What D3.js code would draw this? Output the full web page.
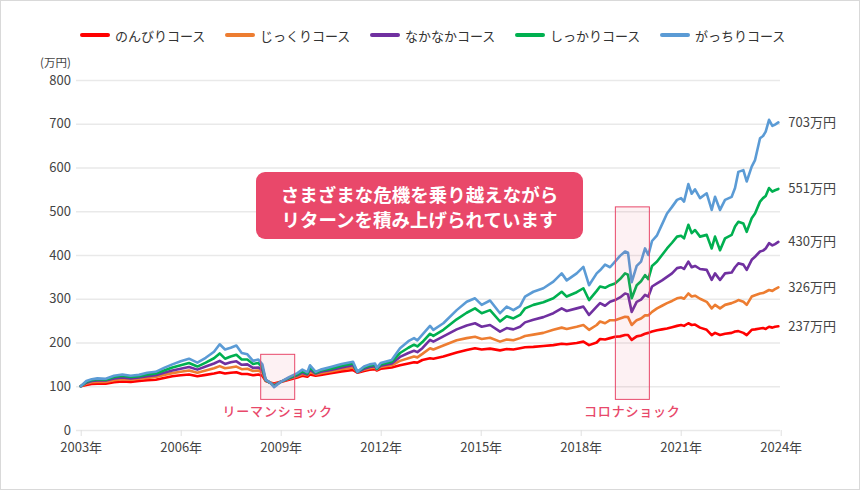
<!DOCTYPE html>
<html><head><meta charset="utf-8">
<script src="https://cdn.jsdelivr.net/npm/d3@7"></script>
<style>
html,body{margin:0;padding:0;background:#fff;}
svg{display:block;font-family:"Noto Sans CJK JP","Noto Sans",sans-serif;}
</style></head><body>
<svg id="chart" width="860" height="490"></svg>
<script>
// ---- data ----
const seriesNames = ["のんびりコース","じっくりコース","なかなかコース","しっかりコース","がっちりコース"];
const seriesColors = ["#ff0000","#ed7d31","#7030a0","#00b050","#5b9bd5"];
const endLabels = ["237万円","326万円","430万円","551万円","703万円"];
const yTicks = [0,100,200,300,400,500,600,700,800];
const xTicks = [2003,2006,2009,2012,2015,2018,2021,2024];
const dates = [2003.00,2003.17,2003.33,2003.50,2003.75,2004.00,2004.25,2004.50,2004.75,2005.00,
2005.25,2005.50,2005.75,2006.00,2006.25,2006.50,2006.75,2007.00,2007.17,2007.33,
2007.50,2007.67,2007.83,2008.00,2008.17,2008.33,2008.45,2008.55,2008.70,2008.80,
2009.00,2009.25,2009.50,2009.65,2009.80,2009.88,2010.05,2010.20,2010.50,2010.83,
2011.17,2011.30,2011.50,2011.67,2011.83,2011.88,2012.00,2012.33,2012.58,2012.83,
2013.00,2013.10,2013.25,2013.48,2013.58,2013.88,2014.28,2014.58,2014.83,2015.03,
2015.28,2015.58,2015.78,2015.98,2016.18,2016.33,2016.58,2016.88,2017.18,2017.43,
2017.58,2017.88,2018.08,2018.25,
2018.48,2018.58,2018.73,2018.88,2019.03,2019.18,2019.33,2019.42,2019.53,2019.68,
2019.81,2019.93,2020.03,2020.14,2020.29,2020.44,2020.59,2020.74,2020.89,2021.01,
2021.10,2021.23,2021.33,2021.43,2021.58,2021.78,2021.93,2022.03,2022.18,2022.33,
2022.53,2022.63,2022.73,2022.88,2022.98,2023.13,2023.23,2023.38,2023.47,2023.55,
2023.65,2023.75,2023.83,2023.93];
const nonbiri = [100,103,105,106,106,109,111,110,112,114,
115,119,123,125,127,123,126,129,132,129,
131,132,128,128,125,127,124,112,108,106,
110,115,120,124,122,127,124,126,130,134,
137,131,135,138,139,136,140,143,148,152,
155,154,160,164,163,168,177,183,187,184,
186,182,185,184,187,189,190,192,194,197,
196,199,202,194,
200,208,207,210,213,214,217,217,206,214,
216,220,222,225,228,230,232,235,238,240,
238,244,240,241,234,229,217,222,217,220,
222,225,226,222,217,229,230,232,233,231,
236,234,236,237];
const jikkuri = [100,106,109,110,110,114,116,115,117,119,
121,126,130,133,136,131,136,141,146,141,
143,145,139,140,135,136,131,113,108,104,
110,117,123,128,125,133,127,130,134,139,
143,132,138,141,143,138,144,148,158,164,
168,166,174,187,184,193,205,210,213,208,
211,202,207,205,210,215,218,222,229,234,
231,236,240,229,
240,248,244,251,251,255,259,258,240,251,
255,262,262,270,278,284,290,295,301,303,
300,312,305,307,300,293,278,286,278,286,
290,293,297,293,286,305,308,312,313,316,
320,318,322,326];
const nakanaka = [100,108,112,113,113,118,120,118,120,123,
125,131,136,140,144,138,145,152,158,151,
155,157,149,150,142,143,137,114,107,102,
110,118,125,131,127,138,129,133,137,143,
148,132,140,144,146,139,147,152,167,176,
181,178,187,206,202,214,230,239,244,236,
240,225,233,230,236,246,252,258,267,278,
272,278,282,263,
282,290,284,293,297,303,312,310,270,293,
298,309,305,328,335,342,350,358,370,372,
368,385,372,375,368,366,343,358,343,358,
360,372,381,378,366,389,396,408,410,415,
427,422,425,430];
const shikkari = [100,110,114,116,115,121,124,121,123,127,
129,136,143,148,153,145,154,164,175,163,
168,172,161,161,151,153,143,114,107,100,
110,119,127,134,129,143,131,136,140,147,
152,133,143,147,149,140,150,156,176,188,
195,191,201,220,215,229,253,268,278,267,
274,248,260,255,263,278,286,292,301,316,
305,315,324,297,
318,328,325,331,335,345,358,355,301,331,
340,354,345,375,385,400,415,428,442,444,
438,469,450,457,442,446,415,442,411,438,
446,465,476,472,453,484,495,522,530,535,
553,545,548,551];
const gacchiri = [100,112,116,118,117,124,127,124,126,131,
133,142,150,157,163,154,165,179,196,184,
188,193,176,173,158,161,150,115,107,98,
110,121,130,138,132,148,133,138,144,151,
156,133,145,150,152,142,153,160,187,203,
210,205,218,238,229,244,274,293,301,286,
296,267,282,274,283,305,316,324,339,358,
342,358,373,331,
358,365,378,372,385,398,408,405,338,375,
385,415,400,432,445,470,495,510,526,530,
522,562,540,550,530,541,503,533,503,526,
533,553,590,594,568,602,617,667,672,682,
709,695,698,703];
const seriesValues = [nonbiri, jikkuri, nakanaka, shikkari, gacchiri];
const shockNames = ["リーマンショック","コロナショック"];
const shockStart = [2008.40, 2019.04];
const shockEnd = [2009.42, 2020.06];
const shockTop = [173, 510];
const shockBottom = [70, 70];
const message = ["さまざまな危機を乗り越えながら","リターンを積み上げられています"];

// ---- drawing ----
const svg = d3.select("#chart");
svg.append("rect").attr("x",0.5).attr("y",0.5).attr("width",859).attr("height",489)
  .attr("fill","#fff").attr("stroke","#d9d9d9");

const x = d3.scaleLinear().domain([2003,2024]).range([80.7,780.7]);
const y = d3.scaleLinear().domain([0,800]).range([430,80]);

// grid
const yAxis = d3.axisLeft(y).tickValues(yTicks).tickSize(-(780-76)).tickPadding(6).tickFormat(d=>d);
const gy = svg.append("g").attr("transform","translate(76,0)").call(yAxis);
gy.select(".domain").remove();
gy.selectAll(".tick line").attr("stroke","#e9e9e9").attr("stroke-width",1.3);
gy.selectAll(".tick text").attr("x",-5).attr("fill","#444").attr("font-size",13)
  .style("font-family","'Noto Sans CJK JP',sans-serif");

svg.append("text").attr("x",40).attr("y",62).attr("fill","#444").attr("font-size",11.5)
  .attr("dominant-baseline","central").text("(万円)");

const xAxis = d3.axisBottom(x).tickValues(xTicks).tickSize(6).tickPadding(7).tickFormat(d=>d+"年");
const gx = svg.append("g").attr("transform","translate(0,430)").call(xAxis);
gx.select(".domain").remove();
gx.selectAll(".tick line").attr("stroke","#e0e0e0");
gx.selectAll(".tick text").attr("fill","#444").attr("font-size",13)
  .style("font-family","'Noto Sans CJK JP',sans-serif");

// lines
const line = d3.line().x((d,i)=>x(dates[i])).y(d=>y(d));
seriesValues.forEach((vals,k)=>{
  svg.append("path").datum(vals).attr("d",line).attr("fill","none")
    .attr("stroke",seriesColors[k]).attr("stroke-width",2.6)
    .attr("stroke-linejoin","round").attr("stroke-linecap","round");
  const last = vals[vals.length-1];
  svg.append("text").attr("x",x(dates[dates.length-1])+10).attr("y",y(last)-1)
    .attr("dominant-baseline","central").attr("fill","#444").attr("font-size",13)
    .text(endLabels[k]);
});

// shock boxes
shockNames.forEach((nm,i)=>{
  const x0=x(shockStart[i]), x1=x(shockEnd[i]), y0=y(shockTop[i]), y1=y(shockBottom[i]);
  svg.append("rect").attr("x",x0).attr("y",y0).attr("width",x1-x0).attr("height",y1-y0)
    .attr("fill","rgba(232,72,106,0.08)").attr("stroke","#e8486a").attr("stroke-width",1);
  svg.append("text").attr("x",(x0+x1)/2).attr("y",410).attr("text-anchor","middle")
    .attr("dominant-baseline","central").attr("fill","#e8486a").attr("font-size",13)
    .attr("font-weight",500).attr("letter-spacing",0.8).text(nm);
});

// message box
svg.append("rect").attr("x",256).attr("y",172).attr("width",327).attr("height",67).attr("rx",9)
  .attr("fill","#e9486a");
message.forEach((t,i)=>{
  svg.append("text").attr("x",419.5).attr("y",194+i*25).attr("text-anchor","middle")
    .attr("dominant-baseline","central").attr("fill","#fff").attr("font-size",18.5)
    .attr("font-weight",700).text(t);
});

// legend
seriesNames.forEach((nm,i)=>{
  const lx = 80 + i*145;
  svg.append("line").attr("x1",lx+2).attr("x2",lx+28).attr("y1",35).attr("y2",35)
    .attr("stroke",seriesColors[i]).attr("stroke-width",4).attr("stroke-linecap","round");
  svg.append("text").attr("x",lx+35).attr("y",35).attr("dominant-baseline","central")
    .attr("fill","#333").attr("font-size",13).text(nm);
});
</script>
</body></html>
